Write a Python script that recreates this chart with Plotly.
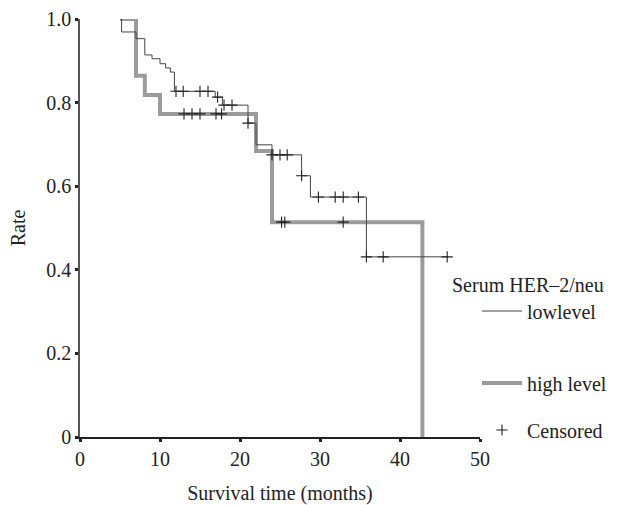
import numpy as np
import plotly.graph_objects as go

# ---- data ----
low_times = [5.0, 5.2, 7.0, 8.1, 9.0, 10.0, 10.7, 11.3, 11.8, 16.9, 17.8, 21.0, 22.0, 24.0, 27.7, 28.8, 35.8, 46.0]
low_surv = [1.0, 0.969, 0.953, 0.914, 0.905, 0.893, 0.883, 0.873, 0.827, 0.813, 0.794, 0.751, 0.699, 0.675, 0.625, 0.574, 0.431, 0.431]
low_censored = [12.0, 12.9, 15.0, 16.0, 17.2, 18.0, 19.0, 21.0, 24.0, 25.0, 25.9, 27.7, 29.8, 31.9, 32.9, 34.8, 35.8, 37.9, 45.9]

high_times = [5.0, 7.0, 8.1, 10.0, 22.0, 24.0, 42.8]
high_surv = [1.0, 0.864, 0.818, 0.773, 0.684, 0.514, 0.0]
high_censored = [13.0, 14.0, 15.0, 17.0, 17.7, 25.2, 25.6, 32.9]

x_ticks = [0, 10, 20, 30, 40, 50]
y_ticks = [0, 0.2, 0.4, 0.6, 0.8, 1.0]
y_ticktext = ["0", "0.2", "0.4", "0.6", "0.8", "1.0"]


def step_value(times, surv, t):
    idx = np.searchsorted(np.array(times), t, side="right") - 1
    return [surv[i] for i in idx]


FONT = "Liberation Serif"
TXT = "#222222"

fig = go.Figure()

fig.add_trace(go.Scatter(
    x=high_times, y=high_surv, mode="lines", line_shape="hv",
    line=dict(color="#9b9b9b", width=4), name="high level",
    legend="legend2", cliponaxis=False))
fig.add_trace(go.Scatter(
    x=low_times, y=low_surv, mode="lines", line_shape="hv",
    line=dict(color="#444444", width=1), name="lowlevel",
    legend="legend", cliponaxis=False))

cens_x = low_censored + high_censored
cens_y = step_value(low_times, low_surv, low_censored) + step_value(high_times, high_surv, high_censored)
fig.add_trace(go.Scatter(
    x=cens_x, y=cens_y, mode="markers", name="Censored",
    marker=dict(symbol="cross-thin", size=8, line=dict(color="#222222", width=1.1)),
    legend="legend3", cliponaxis=False))

legend_common = dict(font=dict(family=FONT, size=20, color=TXT), bgcolor="rgba(0,0,0,0)",
                     xref="container", yref="container", xanchor="left", yanchor="middle",
                     itemwidth=40)

fig.update_layout(
    width=630, height=505,
    margin=dict(l=80, r=150, t=19, b=68, autoexpand=False),
    paper_bgcolor="white", plot_bgcolor="white",
    font=dict(family=FONT, size=20, color=TXT),
    showlegend=True,
    legend=dict(x=477 / 630, y=1 - 311 / 505, **legend_common),
    legend2=dict(x=477 / 630, y=1 - 383 / 505, **legend_common),
    legend3=dict(x=477 / 630, y=1 - 430 / 505, **legend_common),
    xaxis=dict(range=[0, 50], tickvals=x_ticks, ticks="outside", ticklen=3, tickwidth=3,
               tickcolor="#222", showline=True, linecolor="#222", linewidth=1.5,
               showgrid=False, zeroline=False, automargin=False,
               title=dict(text="Survival time (months)", font=dict(family=FONT, size=20, color=TXT), standoff=22),
               tickfont=dict(family=FONT, size=20, color=TXT)),
    yaxis=dict(range=[0, 1], tickvals=y_ticks, ticktext=y_ticktext, ticks="outside", ticklen=3,
               tickwidth=3, tickcolor="#222", showline=True, linecolor="#555", linewidth=1.5,
               showgrid=False, zeroline=False, automargin=False,
               title=dict(text="Rate", font=dict(family=FONT, size=20, color=TXT), standoff=15),
               tickfont=dict(family=FONT, size=20, color=TXT)),
    annotations=[dict(text="Serum HER–2/neu", xref="paper", yref="paper",
                      x=(450 - 80) / 400, y=(437 - 285) / 418, xanchor="left", yanchor="middle",
                      showarrow=False, font=dict(family=FONT, size=20, color=TXT))],
)

fig.write_html("out.html")
